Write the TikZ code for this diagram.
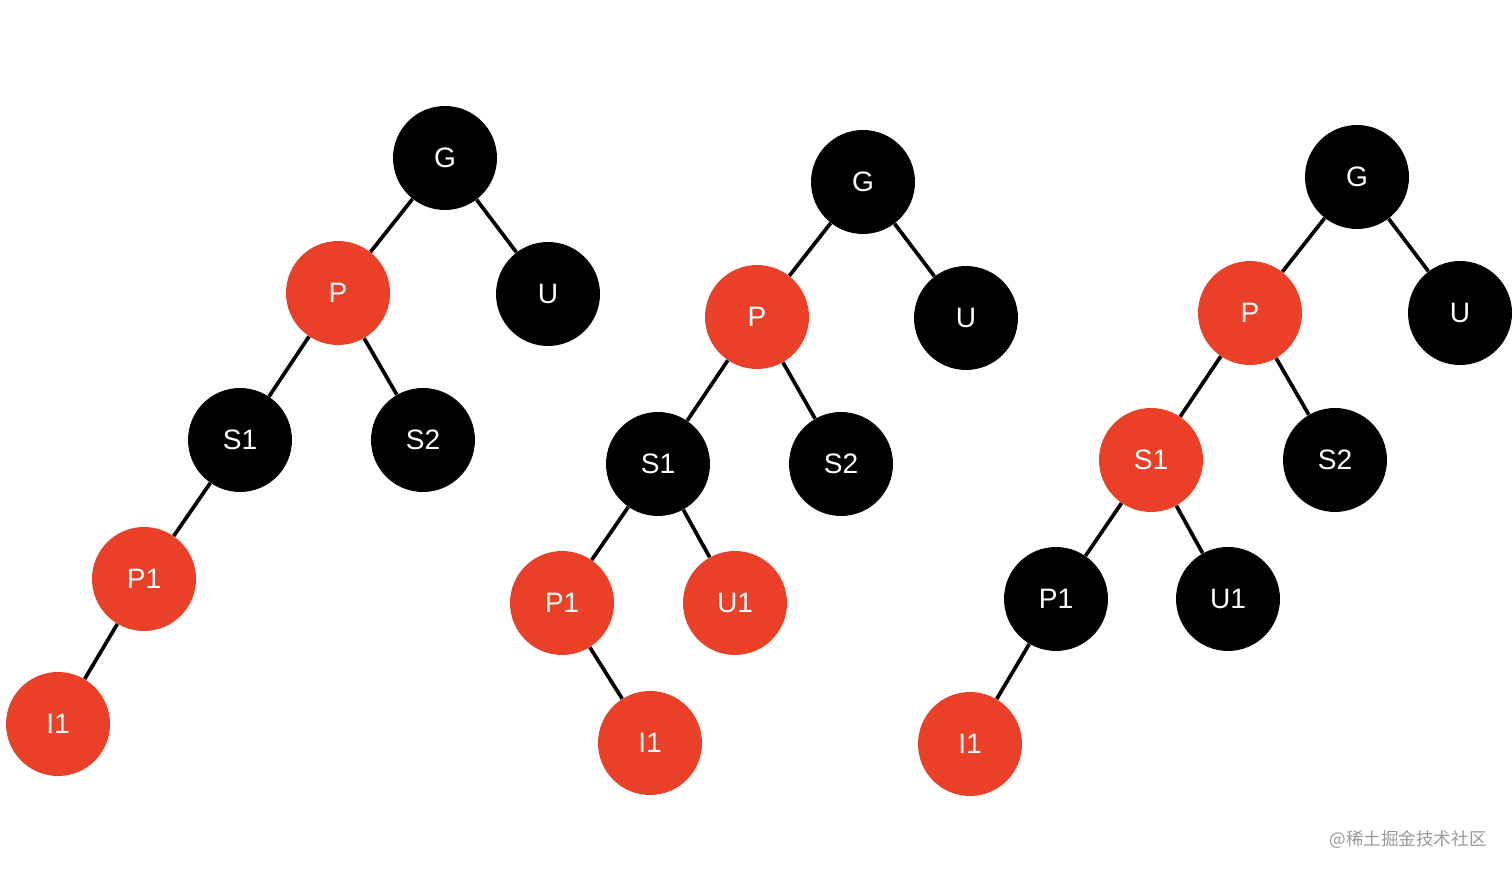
\documentclass[tikz,border=0pt]{standalone}
\usepackage{fontspec}
\setmainfont{Liberation Sans}
\newfontfamily\cjk{Noto Sans CJK SC}
\definecolor{nodered}{RGB}{233,64,39}
\begin{document}
\begin{tikzpicture}[x=0.02cm, y=-0.02cm,
  every node/.style={circle, minimum size=2.08cm, inner sep=0pt, text=white, font=\fontsize{16}{19}\selectfont},
  rb/.style={fill=nodered},
  bk/.style={fill=black},
  link/.style={line width=2.1pt, black}]
  \useasboundingbox (0,0) rectangle (1512,874);
  % first tree
  \node[bk] (ag)  at (445,158) {G};
  \node[rb] (ap)  at (338,293) {P};
  \node[bk] (au)  at (548,294) {U};
  \node[bk] (as1) at (240,440) {S1};
  \node[bk] (as2) at (423,440) {S2};
  \node[rb] (ap1) at (144,579) {P1};
  \node[rb] (ai1) at (58,724) {I1};
  \draw[link] (ag) -- (ap); \draw[link] (ag) -- (au);
  \draw[link] (ap) -- (as1); \draw[link] (ap) -- (as2);
  \draw[link] (as1) -- (ap1); \draw[link] (ap1) -- (ai1);
  % second tree
  \node[bk] (bg)  at (863,182) {G};
  \node[rb] (bp)  at (757,317) {P};
  \node[bk] (bu)  at (966,318) {U};
  \node[bk] (bs1) at (658,464) {S1};
  \node[bk] (bs2) at (841,464) {S2};
  \node[rb] (bp1) at (562,603) {P1};
  \node[rb] (bu1) at (735,603) {U1};
  \node[rb] (bi1) at (650,743) {I1};
  \draw[link] (bg) -- (bp); \draw[link] (bg) -- (bu);
  \draw[link] (bp) -- (bs1); \draw[link] (bp) -- (bs2);
  \draw[link] (bs1) -- (bp1); \draw[link] (bs1) -- (bu1);
  \draw[link] (bp1) -- (bi1);
  % third tree
  \node[bk] (cg)  at (1357,177) {G};
  \node[rb] (cp)  at (1250,313) {P};
  \node[bk] (cu)  at (1460,313) {U};
  \node[rb] (cs1) at (1151,460) {S1};
  \node[bk] (cs2) at (1335,460) {S2};
  \node[bk] (cp1) at (1056,599) {P1};
  \node[bk] (cu1) at (1228,599) {U1};
  \node[rb] (ci1) at (970,744) {I1};
  \draw[link] (cg) -- (cp); \draw[link] (cg) -- (cu);
  \draw[link] (cp) -- (cs1); \draw[link] (cp) -- (cs2);
  \draw[link] (cs1) -- (cp1); \draw[link] (cs1) -- (cu1);
  \draw[link] (cp1) -- (ci1);
  \node[rectangle, minimum size=0pt, text=black!40, font=\cjk\fontsize{10}{12}\selectfont] (mark) at (1408,840) {@稀土掘金技术社区};
\end{tikzpicture}
\end{document}
